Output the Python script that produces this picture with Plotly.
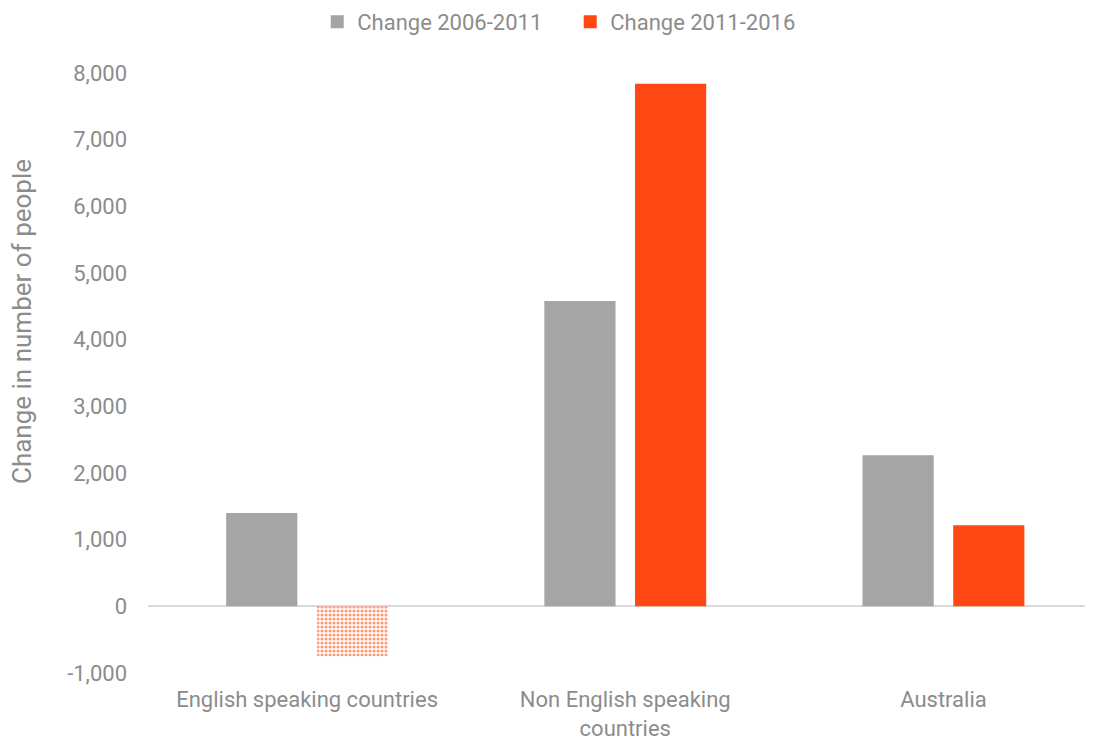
import plotly.graph_objects as go

categories = ["English speaking countries", "Non English speaking<br>countries", "Australia"]
change_2006_2011 = [1400, 4580, 2265]
change_2011_2016 = [-750, 7840, 1215]
series_names = ["Change 2006-2011", "Change 2011-2016"]
y_ticks = list(range(-1000, 9000, 1000))
y_ticktext = [f"{v:,}" for v in y_ticks]
y_title = "Change in number of people"

GREY = "#A5A5A5"
RED = "#FF4713"
LIGHT_RED = "#FF9C7E"
TXT = "#8C8C8C"

red_colors = [LIGHT_RED if v < 0 else RED for v in change_2011_2016]
red_patterns = ["." if v < 0 else "" for v in change_2011_2016]

fig = go.Figure()
fig.add_trace(go.Bar(x=categories, y=change_2006_2011, name=series_names[0],
                     showlegend=False, legendgroup="a",
                     marker=dict(color=GREY, line=dict(width=0))))
fig.add_trace(go.Bar(x=categories, y=change_2011_2016, name=series_names[1],
                     showlegend=False, legendgroup="b",
                     marker=dict(color=red_colors, line=dict(width=0),
                                 pattern=dict(shape=red_patterns, fgcolor="#FFA98D",
                                              bgcolor=LIGHT_RED, size=4, solidity=0.5,
                                              fillmode="replace"))))
# legend entries (no data drawn)
for name, col, grp in [(series_names[0], GREY, "a"), (series_names[1], RED, "b")]:
    fig.add_trace(go.Scatter(x=[None], y=[None], mode="markers", name=name,
                             legendgroup=grp,
                             marker=dict(symbol="square", size=13, color=col)))

fig.update_layout(
    width=1085, height=733,
    margin=dict(l=140, r=0, t=65, b=68, autoexpand=False),
    paper_bgcolor="white", plot_bgcolor="white",
    barmode="group", bargap=0.43, bargroupgap=0.215,
    font=dict(family="Roboto, sans-serif", color=TXT, size=22),
    showlegend=True,
    legend=dict(orientation="h", x=0.285, xanchor="left", xref="container",
                y=0.981, yanchor="middle", yref="container",
                font=dict(size=22, color=TXT), entrywidth=208, entrywidthmode="pixels",
                traceorder="normal", itemwidth=30),
    xaxis=dict(range=[-0.5, 2.47], showgrid=False, showline=False, ticks="",
               tickfont=dict(size=22, color=TXT), fixedrange=True, automargin=False,
               ticklabelstandoff=11),
    yaxis=dict(range=[-1000, 8000], tickvals=y_ticks, ticktext=y_ticktext, showgrid=False,
               zeroline=True, zerolinecolor="#D9D9D9", zerolinewidth=2, automargin=False,
               tickfont=dict(size=22, color=TXT), ticks="", ticklabelstandoff=20),
    annotations=[dict(text=y_title, textangle=-90, xref="paper", yref="paper",
                      x=-0.1333, y=0.585, xanchor="center", yanchor="middle",
                      showarrow=False, font=dict(size=26, color=TXT))],
)

fig.write_html("out.html")
